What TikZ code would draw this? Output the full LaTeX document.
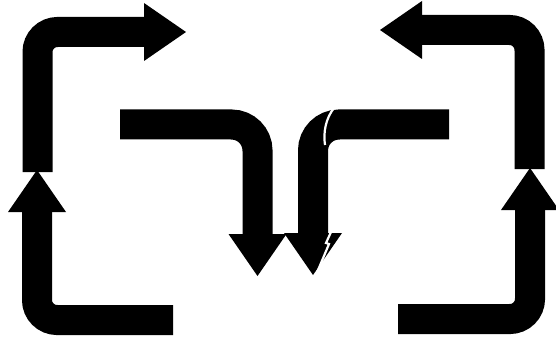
\documentclass[tikz,border=0pt]{standalone}
\usepackage{tikz}
\usetikzlibrary{arrows.meta}

\begin{document}
\begin{tikzpicture}[x=1pt,y=-1pt,
  bigarrow/.style={line width=30pt,rounded corners=20pt,
    -{Triangle[width=58pt,length=42pt,line width=0pt]}},
  crack/.style={white,line width=2.2pt}]
\useasboundingbox (0,0) rectangle (556,339);

\coordinate (ltstart) at (37.5,172);
\coordinate (ltcorner) at (37.5,32);
\coordinate (ltend) at (186,32);
\coordinate (lbstart) at (173,320);
\coordinate (lbcorner) at (37,320);
\coordinate (lbend) at (37,170);
\coordinate (mlstart) at (120,124.5);
\coordinate (mlcorner) at (257.5,124.5);
\coordinate (mlend) at (257.5,276);
\coordinate (mrstart) at (449,124.5);
\coordinate (mrcorner) at (313,124.5);
\coordinate (mrend) at (313,275);
\coordinate (rtstart) at (529.5,169);
\coordinate (rtcorner) at (529.5,30);
\coordinate (rtend) at (380,30);
\coordinate (rbstart) at (398,319);
\coordinate (rbcorner) at (530,319);
\coordinate (rbend) at (530,168);

\draw[bigarrow] (ltstart) -- (ltcorner) -- (ltend);
\draw[bigarrow] (lbstart) -- (lbcorner) -- (lbend);
\draw[bigarrow,rounded corners=26pt] (mlstart) -- (mlcorner) -- (mlend);
\draw[bigarrow,rounded corners=26pt] (mrstart) -- (mrcorner) -- (mrend);
\draw[bigarrow] (rtstart) -- (rtcorner) -- (rtend);
\draw[bigarrow] (rbstart) -- (rbcorner) -- (rbend);

\coordinate (crackatop) at (334,108);
\coordinate (crackabot) at (325,145);
\coordinate (crackbtop) at (331,232);
\coordinate (crackbmid) at (326,243);
\coordinate (crackbbot) at (316,275);
\draw[crack] (crackatop) .. controls (326,118) and (323,132) .. (crackabot);
\draw[crack] (crackbtop) -- (crackbmid) -- ++(3,1) -- (crackbbot);
\end{tikzpicture}
\end{document}
